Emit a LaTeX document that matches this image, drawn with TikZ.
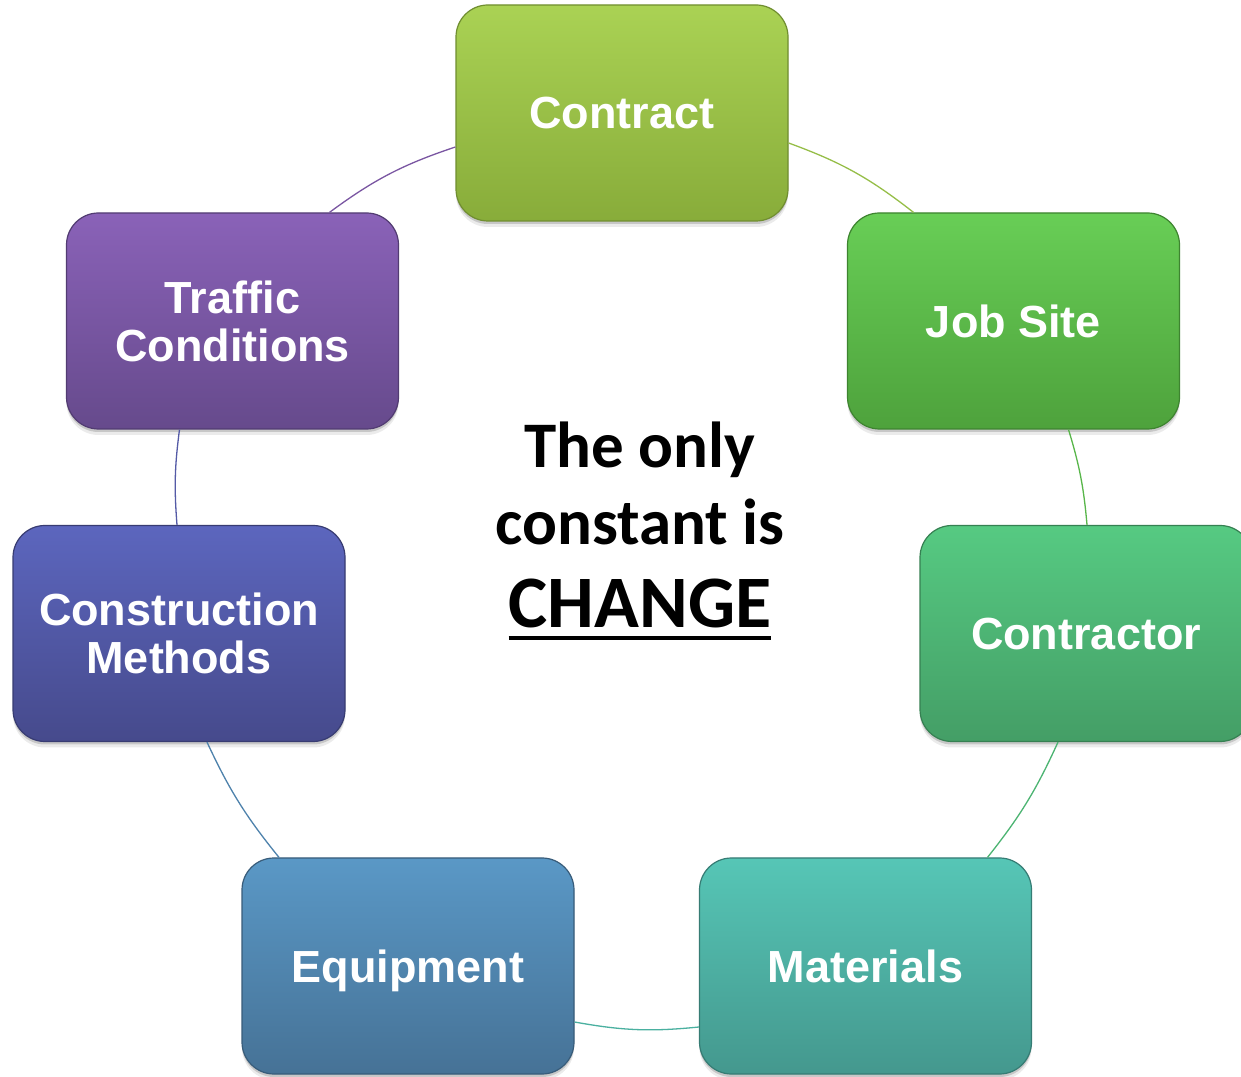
\documentclass[tikz,border=0pt]{standalone}
\usepackage{fontspec}
\setmainfont{Liberation Sans}
\newfontfamily\calfont{Carlito}
\usetikzlibrary{shadows}
% box colours: top / bottom / border
\definecolor{ctT}{RGB}{170,210,84}\definecolor{ctB}{RGB}{136,172,58}\definecolor{ctD}{RGB}{112,142,48}
\definecolor{jsT}{RGB}{104,206,86}\definecolor{jsB}{RGB}{78,162,60}\definecolor{jsD}{RGB}{62,132,48}
\definecolor{coT}{RGB}{86,202,130}\definecolor{coB}{RGB}{68,158,102}\definecolor{coD}{RGB}{54,128,82}
\definecolor{maT}{RGB}{86,198,182}\definecolor{maB}{RGB}{68,152,142}\definecolor{maD}{RGB}{54,124,116}
\definecolor{eqT}{RGB}{90,152,198}\definecolor{eqB}{RGB}{70,114,150}\definecolor{eqD}{RGB}{56,92,122}
\definecolor{cmT}{RGB}{92,102,190}\definecolor{cmB}{RGB}{70,74,140}\definecolor{cmD}{RGB}{56,60,114}
\definecolor{trT}{RGB}{138,98,184}\definecolor{trB}{RGB}{102,74,140}\definecolor{trD}{RGB}{82,60,114}
% connector colours
\definecolor{lk1}{RGB}{150,190,72}
\definecolor{lk2}{RGB}{88,182,74}
\definecolor{lk3}{RGB}{76,180,114}
\definecolor{lk4}{RGB}{74,176,160}
\definecolor{lk5}{RGB}{78,130,172}
\definecolor{lk6}{RGB}{84,90,166}
\definecolor{lk7}{RGB}{122,86,162}
\newcommand{\myul}[1]{\setbox0\hbox{#1}\mbox{\rlap{\rule[-12pt]{\wd0}{4pt}}\box0}}
\tikzset{
  cyclebox/.style={rectangle, rounded corners=32pt, minimum width=332pt, minimum height=216pt,
    inner sep=0pt, top color=#1T, bottom color=#1B, draw=#1D, line width=1.2pt,
    text=white, font=\fontsize{45}{48}\selectfont\bfseries, align=center, text depth=0pt,
    drop shadow={shadow xshift=0pt, shadow yshift=-6pt, opacity=0.08, fill=black},
    drop shadow={shadow xshift=0pt, shadow yshift=-3pt, opacity=0.15, fill=black}},
  link/.style={line width=1.3pt, draw=#1},
}
\begin{document}
\begin{tikzpicture}[x=1pt,y=1pt]
\useasboundingbox (0,0) rectangle (1241,1076);
\clip (0,0) rectangle (1241,1076);
\fill[white] (0,0) rectangle (1241,1076);

\node[cyclebox=ct] (contract)     at (622,963)    {Contract};
\node[cyclebox=js] (jobsite)      at (1013.5,755) {Job Site};
\node[cyclebox=co] (contractor)   at (1086,442.5) {Contractor};
\node[cyclebox=ma] (materials)    at (865.5,110)  {Materials};
\node[cyclebox=eq] (equipment)    at (408,110)    {Equipment};
\node[cyclebox=cm] (construction) at (179,442.5)  {Construction\\Methods};
\node[cyclebox=tr] (traffic)      at (232.5,755)  {Traffic\\Conditions};

\draw[link=lk1] ([yshift=-30pt]contract.east) to[bend left=9] ([xshift=-100pt]jobsite.north);
\draw[link=lk2] ([xshift=55pt]jobsite.south) to[bend left=6] ([xshift=1pt]contractor.north);
\draw[link=lk3] ([xshift=-28pt]contractor.south) to[bend left=7] ([xshift=122pt]materials.north);
\draw[link=lk4] ([yshift=-61pt]materials.west) to[bend left=8] ([yshift=-56pt]equipment.east);
\draw[link=lk5] ([xshift=-129pt]equipment.north) to[bend left=7] ([xshift=28pt]construction.south);
\draw[link=lk6] ([xshift=-2pt]construction.north) to[bend left=6] ([xshift=-53pt]traffic.south);
\draw[link=lk7] ([xshift=97pt]traffic.north) to[bend left=9] ([yshift=-34pt]contract.west);

\node[font=\calfont\bfseries\fontsize{65}{77}\selectfont, align=center, text depth=0pt]
  (motto) at (640,551)
  {The only\\constant is\\[6pt]{\fontsize{74}{77}\selectfont\myul{CHANGE}}};
\end{tikzpicture}
\end{document}
